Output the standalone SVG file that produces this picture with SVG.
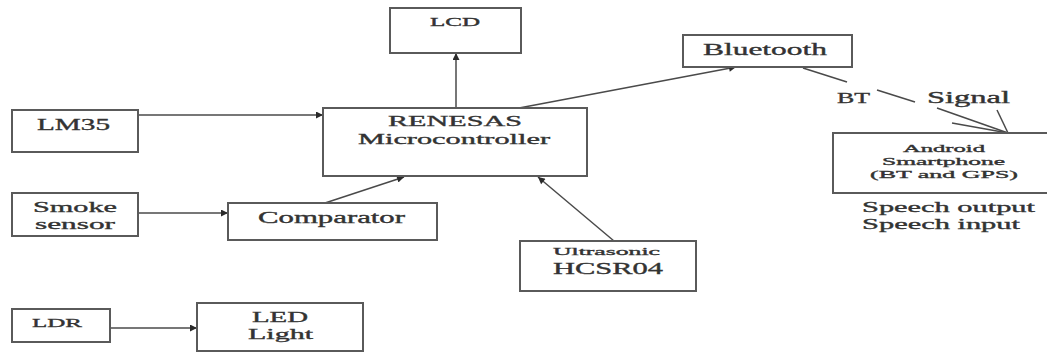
<svg xmlns="http://www.w3.org/2000/svg" width="1047" height="352" viewBox="0 0 1047 352">
<defs>
<marker id="ah" viewBox="0 0 10 10" refX="10" refY="5" markerWidth="9" markerHeight="7" markerUnits="userSpaceOnUse" orient="auto">
<path d="M0,0 L10,5 L0,10 z" fill="#2a2a2a"/>
</marker>
<style>
.box{fill:#ffffff;stroke:#5a5a5a;stroke-width:2}
.t{font-family:'Liberation Serif','Times New Roman',Times,serif;fill:#333333;stroke:#333333;stroke-width:0.35;font-weight:normal;text-anchor:start}
.c{stroke:#4a4a4a;stroke-width:1.5;fill:none}
.a{marker-end:url(#ah)}
</style>
</defs>
<rect width="1047" height="352" fill="#ffffff"/>
<g id="connectors">
<line class="c a" x1="138" y1="115" x2="323" y2="115"/>
<line class="c a" x1="138" y1="213" x2="228" y2="213"/>
<line class="c a" x1="325" y1="203" x2="404" y2="177"/>
<line class="c a" x1="614" y1="241" x2="538" y2="177"/>
<line class="c a" x1="456" y1="108" x2="456" y2="53"/>
<line class="c a" x1="519" y1="108" x2="736" y2="67"/>
<line class="c a" x1="110" y1="328" x2="197" y2="328"/>
<line class="c" x1="803" y1="68" x2="847" y2="82"/>
<line class="c" x1="877" y1="90" x2="915" y2="102"/>
<line class="c" x1="937" y1="108" x2="1008" y2="133"/>
<line class="c" x1="952" y1="123" x2="1008" y2="133"/>
<line class="c" x1="997" y1="110" x2="1008" y2="133"/>
</g>
<g id="lcd">
<rect class="box" x="390" y="8" width="131" height="45"/>
<text class="t" x="430" y="26" font-size="12" textLength="50" lengthAdjust="spacingAndGlyphs">LCD</text>
</g>
<g id="renesas">
<rect class="box" x="323" y="108" width="264" height="68"/>
<text class="t" x="388" y="126" font-size="15" textLength="134" lengthAdjust="spacingAndGlyphs">RENESAS</text>
<text class="t" x="358" y="144" font-size="15" textLength="192" lengthAdjust="spacingAndGlyphs">Microcontroller</text>
</g>
<g id="bluetooth">
<rect class="box" x="683" y="35" width="169" height="32"/>
<text class="t" x="703" y="55" font-size="17" textLength="124" lengthAdjust="spacingAndGlyphs">Bluetooth</text>
</g>
<g id="bt-signal">
<text class="t" x="837" y="103" font-size="15" textLength="33" lengthAdjust="spacingAndGlyphs">BT</text>
<text class="t" x="927" y="103" font-size="16" textLength="83" lengthAdjust="spacingAndGlyphs">Signal</text>
</g>
<g id="android">
<rect class="box" x="833" y="133" width="220" height="60"/>
<text class="t" x="903" y="152" font-size="11" textLength="82" lengthAdjust="spacingAndGlyphs">Android</text>
<text class="t" x="882" y="165" font-size="11" textLength="123" lengthAdjust="spacingAndGlyphs">Smartphone</text>
<text class="t" x="870" y="178" font-size="11" textLength="148" lengthAdjust="spacingAndGlyphs">(BT and GPS)</text>
</g>
<g id="speech">
<text class="t" x="862" y="212" font-size="15" textLength="173" lengthAdjust="spacingAndGlyphs">Speech output</text>
<text class="t" x="862" y="229" font-size="15" textLength="158" lengthAdjust="spacingAndGlyphs">Speech input</text>
</g>
<g id="lm35">
<rect class="box" x="12" y="110" width="126" height="42"/>
<text class="t" x="37" y="130" font-size="17" textLength="73" lengthAdjust="spacingAndGlyphs">LM35</text>
</g>
<g id="smoke">
<rect class="box" x="12" y="193" width="126" height="43"/>
<text class="t" x="33" y="212" font-size="15" textLength="84" lengthAdjust="spacingAndGlyphs">Smoke</text>
<text class="t" x="35" y="229" font-size="15" textLength="80" lengthAdjust="spacingAndGlyphs">sensor</text>
</g>
<g id="comparator">
<rect class="box" x="228" y="203" width="209" height="37"/>
<text class="t" x="258" y="223" font-size="16" textLength="147" lengthAdjust="spacingAndGlyphs">Comparator</text>
</g>
<g id="ultrasonic">
<rect class="box" x="520" y="241" width="176" height="50"/>
<text class="t" x="553" y="255" font-size="11" textLength="107" lengthAdjust="spacingAndGlyphs">Ultrasonic</text>
<text class="t" x="553" y="274" font-size="17" textLength="110" lengthAdjust="spacingAndGlyphs">HCSR04</text>
</g>
<g id="ldr">
<rect class="box" x="12" y="309" width="98" height="33"/>
<text class="t" x="32" y="327" font-size="13" textLength="50" lengthAdjust="spacingAndGlyphs">LDR</text>
</g>
<g id="led">
<rect class="box" x="197" y="303" width="166" height="48"/>
<text class="t" x="252" y="322" font-size="15" textLength="56" lengthAdjust="spacingAndGlyphs">LED</text>
<text class="t" x="248" y="339" font-size="15" textLength="65" lengthAdjust="spacingAndGlyphs">Light</text>
</g>
</svg>
